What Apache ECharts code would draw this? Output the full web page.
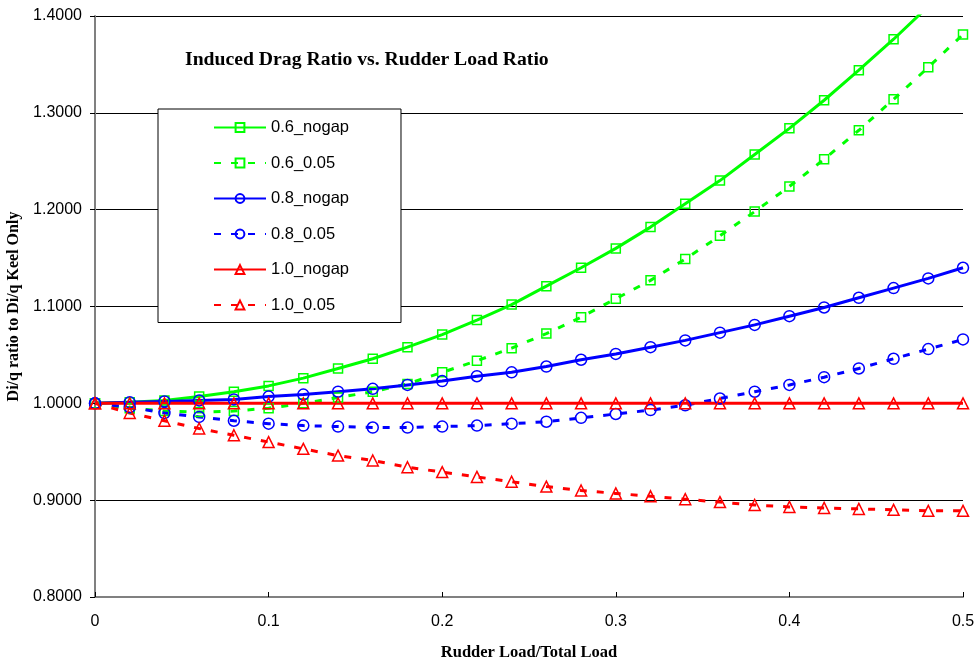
<!DOCTYPE html>
<html>
<head>
<meta charset="utf-8">
<script src="https://cdn.jsdelivr.net/npm/echarts@6/dist/echarts.min.js"></script>
<style>html,body{margin:0;padding:0;background:#fff}#c{width:975px;height:660px}</style>
</head>
<body>
<div id="c"></div>
<script>
const xValues = [0,0.02,0.04,0.06,0.08,0.10,0.12,0.14,0.16,0.18,0.20,0.22,0.24,0.26,0.28,0.30,0.32,0.34,0.36,0.38,0.40,0.42,0.44,0.46,0.48,0.50];
const s06_nogap = [1.000,1.001,1.003,1.007,1.012,1.018,1.026,1.036,1.046,1.058,1.071,1.086,1.102,1.121,1.140,1.160,1.182,1.206,1.230,1.257,1.284,1.313,1.344,1.376,1.410,1.446];
const s06_005 = [1.000,0.995,0.992,0.991,0.992,0.995,1.000,1.006,1.012,1.020,1.032,1.044,1.057,1.072,1.089,1.108,1.127,1.149,1.173,1.198,1.224,1.252,1.282,1.314,1.347,1.381];
const s08_nogap = [1.000,1.001,1.002,1.003,1.004,1.007,1.009,1.012,1.015,1.019,1.023,1.028,1.032,1.038,1.045,1.051,1.058,1.065,1.073,1.081,1.090,1.099,1.109,1.119,1.129,1.140];
const s08_005 = [1.000,0.996,0.990,0.986,0.982,0.979,0.977,0.976,0.975,0.975,0.976,0.977,0.979,0.981,0.985,0.989,0.993,0.998,1.005,1.012,1.019,1.027,1.036,1.046,1.056,1.066];
const s10_nogap = [1.000,1.000,1.000,1.000,1.000,1.000,1.000,1.000,1.000,1.000,1.000,1.000,1.000,1.000,1.000,1.000,1.000,1.000,1.000,1.000,1.000,1.000,1.000,1.000,1.000,1.000];
const s10_005 = [1.000,0.990,0.982,0.974,0.967,0.960,0.953,0.946,0.941,0.934,0.929,0.924,0.919,0.914,0.910,0.907,0.904,0.901,0.898,0.895,0.893,0.892,0.891,0.890,0.889,0.889];
const seriesNames = ['0.6_nogap','0.6_0.05','0.8_nogap','0.8_0.05','1.0_nogap','1.0_0.05'];
const yTicks = ['0.8000','0.9000','1.0000','1.1000','1.2000','1.3000','1.4000'];
const xTicks = ['0','0.1','0.2','0.3','0.4','0.5'];

const GREEN = '#00ff00', BLUE = '#0000ff', RED = '#ff0000';
function mk(name, vals, color, dashed, symbol, size) {
  return {
    name: name,
    type: 'line',
    data: xValues.map((x, i) => [x, vals[i]]),
    symbol: symbol,
    symbolSize: size,
    showAllSymbol: true,
    smooth: false,
    clip: true,
    lineStyle: { color: color, width: 3, type: dashed ? [7, 10] : 'solid' },
    itemStyle: { color: 'rgba(255,255,255,0)', borderColor: color, borderWidth: 1.5 },
    emphasis: { disabled: true }
  };
}
const chart = echarts.init(document.getElementById('c'), null, { renderer: 'canvas' });
chart.setOption({
  animation: false,
  backgroundColor: '#ffffff',
  title: {
    text: 'Induced Drag Ratio vs. Rudder Load Ratio',
    left: 185, top: 50, padding: 0,
    textStyle: { fontFamily: 'Liberation Serif', fontWeight: 'bold', fontSize: 19.7, color: '#000' }
  },
  legend: {
    data: seriesNames,
    orient: 'vertical',
    left: 158, top: 109,
    padding: [10, 52, 9, 55],
    itemWidth: 52, itemHeight: 11, itemGap: 18.5,
    backgroundColor: '#ffffff',
    borderColor: '#000', borderWidth: 1,
    textStyle: { fontFamily: 'Liberation Sans', fontSize: 16.5, color: '#000' }
  },
  grid: { left: 95, right: 12, top: 16, bottom: 63, containLabel: false, outerBoundsMode: 'none' },
  xAxis: {
    type: 'value', min: 0, max: 0.5, interval: 0.1,
    name: 'Rudder Load/Total Load', nameLocation: 'middle', nameGap: 47,
    nameTextStyle: { fontFamily: 'Liberation Serif', fontWeight: 'bold', fontSize: 16.5, color: '#000' },
    axisLine: { show: true, lineStyle: { color: '#808080', width: 2 } },
    axisTick: { show: true, inside: true, length: 5, lineStyle: { color: '#000' } },
    axisLabel: { margin: 17, fontFamily: 'Liberation Sans', fontSize: 16, color: '#000',
      formatter: v => xTicks[Math.round(v * 10)] },
    splitLine: { show: false }
  },
  yAxis: {
    type: 'value', min: 0.8, max: 1.4, interval: 0.1,
    name: 'Di/q ratio to Di/q Keel Only', nameLocation: 'middle', nameGap: 70, nameRotate: 90,
    nameTextStyle: { fontFamily: 'Liberation Serif', fontWeight: 'bold', fontSize: 16, color: '#000' },
    axisLine: { show: true, lineStyle: { color: '#808080', width: 2 } },
    axisTick: { show: true, inside: false, length: 5, lineStyle: { color: '#000' } },
    axisLabel: { margin: 13, fontFamily: 'Liberation Sans', fontSize: 16, color: '#000',
      formatter: v => yTicks[Math.round((v - 0.8) * 10)] },
    splitLine: { show: true, lineStyle: { color: '#000', width: 1 } }
  },
  series: [
    mk(seriesNames[0], s06_nogap, GREEN, false, 'rect', 9),
    mk(seriesNames[1], s06_005, GREEN, true, 'rect', 9),
    mk(seriesNames[2], s08_nogap, BLUE, false, 'circle', 11),
    mk(seriesNames[3], s08_005, BLUE, true, 'circle', 11),
    mk(seriesNames[4], s10_nogap, RED, false, 'triangle', 11),
    mk(seriesNames[5], s10_005, RED, true, 'triangle', 11)
  ]
});
</script>
</body>
</html>
